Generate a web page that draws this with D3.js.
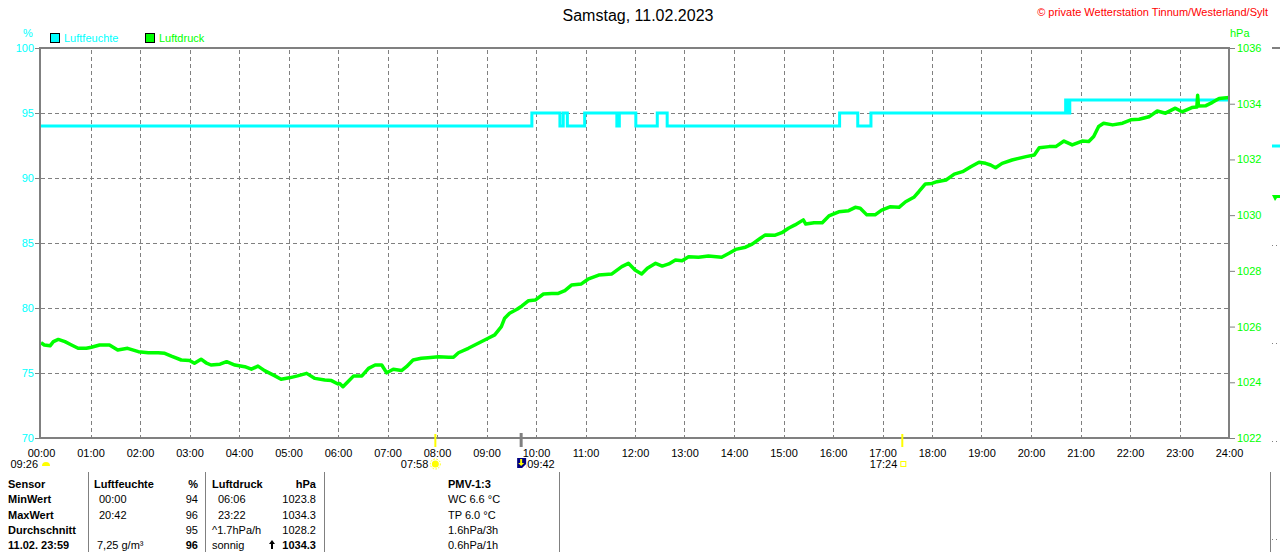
<!DOCTYPE html>
<html>
<head>
<meta charset="utf-8">
<script src="https://cdn.jsdelivr.net/npm/d3@7/dist/d3.min.js"></script>
<style>
  body { margin: 0; background: #fff; }
  svg { display: block; font-family: "Liberation Sans", Arial, sans-serif; }
</style>
</head>
<body>
<svg id="chart" width="1280" height="552"></svg>
<script>
// humidity (%) steps: minute of day -> value from that minute on
const humTime = [0, 595, 629, 633, 638, 659, 698, 701, 721, 747, 759, 968, 990, 1006, 1242, 1245, 1247, 1440];
const humVal  = [94, 95, 94, 95, 94, 95, 94, 95, 94, 95, 94, 95, 94, 95, 96, 95, 96, 96];

// pressure (hPa)
const pressTime = [0,4,11,15,21,29,37,45,55,61,71,83,93,105,118,130,142,150,158,170,
  180,186,194,200,206,217,225,235,247,255,263,271,283,291,301,311,322,332,344,352,
  360,362,366,372,379,389,397,405,413,419,427,437,443,451,461,469,482,494,500,506,
  518,530,542,550,558,562,568,577,583,591,599,609,619,627,635,643,655,663,676,692,
  704,712,720,728,735,745,753,761,769,777,785,797,809,825,834,842,854,862,872,878,
  890,898,906,914,924,927,937,947,955,967,979,987,993,1001,1011,1019,1029,1040,1048,1058,
  1064,1072,1080,1086,1097,1107,1117,1127,1137,1145,1151,1157,1165,1177,1194,1204,1210,1222,1230,1240,
  1250,1262,1270,1276,1282,1288,1299,1311,1321,1331,1343,1353,1363,1375,1383,1395,1401,1402,1403,1412,
  1420,1428,1440];
const pressVal = [1025.42,1025.34,1025.31,1025.46,1025.54,1025.46,1025.34,1025.22,1025.22,1025.26,
  1025.34,1025.34,1025.16,1025.22,1025.10,1025.06,1025.06,1025.04,1024.94,1024.80,
  1024.78,1024.68,1024.83,1024.70,1024.62,1024.65,1024.74,1024.62,1024.56,1024.47,
  1024.58,1024.42,1024.24,1024.11,1024.16,1024.23,1024.32,1024.14,1024.08,1024.06,
  1023.94,1023.96,1023.84,1024.02,1024.23,1024.23,1024.50,1024.62,1024.62,1024.34,
  1024.47,1024.42,1024.56,1024.80,1024.86,1024.88,1024.92,1024.90,1024.90,1025.06,
  1025.22,1025.40,1025.58,1025.70,1026.00,1026.30,1026.48,1026.62,1026.74,1026.93,
  1026.95,1027.17,1027.19,1027.19,1027.29,1027.49,1027.53,1027.70,1027.85,1027.89,
  1028.15,1028.27,1028.03,1027.89,1028.09,1028.27,1028.17,1028.25,1028.39,1028.36,
  1028.51,1028.49,1028.53,1028.49,1028.63,1028.77,1028.85,1028.96,1029.17,1029.29,
  1029.28,1029.37,1029.53,1029.65,1029.83,1029.68,1029.73,1029.73,1029.97,1030.12,
  1030.16,1030.28,1030.25,1030.01,1030.01,1030.18,1030.30,1030.28,1030.48,1030.64,
  1030.84,1031.12,1031.14,1031.20,1031.26,1031.47,1031.56,1031.74,1031.90,1031.86,
  1031.80,1031.70,1031.86,1031.98,1032.10,1032.16,1032.42,1032.46,1032.46,1032.66,
  1032.52,1032.66,1032.64,1032.82,1033.18,1033.30,1033.24,1033.30,1033.42,1033.44,
  1033.53,1033.74,1033.66,1033.84,1033.71,1033.86,1033.88,1034.30,1033.92,1033.93,
  1034.05,1034.19,1034.22];

const humTicks = [70, 75, 80, 85, 90, 95, 100];
const pressTicks = [1022, 1024, 1026, 1028, 1030, 1032, 1034, 1036];
const hourTicks = d3.range(0, 25).map(h => h * 60);

// sun / moon times (minutes)
const sunrise = 478, sunset = 1044, moonset = 582;

const tableRows = [
  ['Sensor', 'Luftfeuchte', '%', 'Luftdruck', 'hPa', 'PMV-1:3'],
  ['MinWert', '00:00', '94', '06:06', '1023.8', 'WC 6.6 °C'],
  ['MaxWert', '20:42', '96', '23:22', '1034.3', 'TP 6.0 °C'],
  ['Durchschnitt', '', '95', '^1.7hPa/h', '1028.2', '1.6hPa/3h'],
  ['11.02. 23:59', '7,25 g/m³', '96', 'sonnig', '1034.3', '0.6hPa/1h']
];

const svg = d3.select('#chart');
const grey = '#808080', cyan = '#00ffff', green = '#00ff00';

const x = d3.scaleLinear().domain([0, 1440]).range([41, 1229]);
const yH = d3.scaleLinear().domain([70, 100]).range([438, 48]);
const yP = d3.scaleLinear().domain([1022, 1036]).range([438, 48]);

// titles
svg.append('text').attr('x', 638).attr('y', 21).attr('text-anchor', 'middle')
  .style('font-size', '16px').style('fill', '#000').text('Samstag, 11.02.2023');
svg.append('text').attr('x', 1268).attr('y', 16).attr('text-anchor', 'end')
  .style('font-size', '11px').style('fill', '#ff0000').text('© private Wetterstation Tinnum/Westerland/Sylt');
svg.append('text').attr('x', 23).attr('y', 37).style('font-size', '11px').style('fill', cyan).text('%');
svg.append('text').attr('x', 1230).attr('y', 37).style('font-size', '11px').style('fill', green).text('hPa');

// legend
const legend = [{ name: 'Luftfeuchte', color: cyan, x: 50 }, { name: 'Luftdruck', color: green, x: 145 }];
legend.forEach(l => {
  svg.append('rect').attr('x', l.x + 0.5).attr('y', 33.5).attr('width', 9).attr('height', 9)
    .style('fill', l.color).style('stroke', '#000');
  svg.append('text').attr('x', l.x + 14).attr('y', 42).style('font-size', '11px')
    .style('fill', l.color).text(l.name);
});

// grid
const grid = svg.append('g').style('stroke', grey).style('stroke-dasharray', '4,3');
grid.selectAll('line.v').data(hourTicks.slice(1, -1)).enter().append('line')
  .attr('x1', d => Math.round(x(d)) + 0.5).attr('x2', d => Math.round(x(d)) + 0.5)
  .attr('y1', yH(100) + 2).attr('y2', yH(70) - 1);
grid.selectAll('line.h').data(humTicks.slice(1, -1)).enter().append('line')
  .attr('x1', x(0)).attr('x2', x(1440))
  .attr('y1', d => Math.round(yH(d)) + 0.5).attr('y2', d => Math.round(yH(d)) + 0.5);

// lines
const humData = humTime.map((t, i) => ({ t, v: humVal[i] }));
const pressData = pressTime.map((t, i) => ({ t, v: pressVal[i] }));

svg.append('path').datum(humData)
  .attr('d', d3.line().x(d => x(d.t)).y(d => yH(d.v)).curve(d3.curveStepAfter))
  .style('fill', 'none').style('stroke', cyan).style('stroke-width', 3);

svg.append('path').datum(pressData)
  .attr('d', d3.line().x(d => x(d.t)).y(d => yP(d.v)))
  .style('fill', 'none').style('stroke', green).style('stroke-width', 3.5)
  .style('stroke-linejoin', 'round');

// frame
svg.append('rect').attr('x', 40).attr('y', 48).attr('width', 1189).attr('height', 390)
  .style('fill', 'none').style('stroke', grey).style('stroke-width', 2);

// axes
function styleAxis(g, color) {
  g.select('.domain').remove();
  g.selectAll('line').style('stroke', grey);
  g.selectAll('text').style('fill', color).style('font-size', '11px')
    .style('font-family', '"Liberation Sans", Arial, sans-serif');
}
svg.append('g').attr('transform', 'translate(40,0)')
  .call(d3.axisLeft(yH).tickValues(humTicks).tickSize(5).tickPadding(1).tickFormat(d3.format('d')))
  .call(g => styleAxis(g, cyan));
svg.append('g').attr('transform', 'translate(1230,0)')
  .call(d3.axisRight(yP).tickValues(pressTicks).tickSize(5).tickPadding(2).tickFormat(d3.format('d')))
  .call(g => styleAxis(g, green));
svg.append('g').attr('transform', 'translate(0,438)')
  .call(d3.axisBottom(x).tickValues(hourTicks).tickSize(0).tickPadding(11)
    .tickFormat(d => d3.format('02d')(d / 60) + ':00'))
  .call(g => styleAxis(g, '#000'));

// sun / moon markers on the time axis
[sunrise, sunset].forEach(t => {
  svg.append('line').attr('x1', x(t)).attr('x2', x(t)).attr('y1', 434).attr('y2', 447)
    .style('stroke', '#ffff00').style('stroke-width', 2);
});
svg.append('line').attr('x1', x(moonset)).attr('x2', x(moonset)).attr('y1', 433).attr('y2', 447)
  .style('stroke', grey).style('stroke-width', 3);

const small = svg.append('g').style('font-size', '11px').style('fill', '#000');
small.append('text').attr('x', x(0) - 3).attr('y', 468).attr('text-anchor', 'end').text('09:26');
svg.append('path').attr('d', `M${x(0) + 1},466 a4,4 0 0 1 8,0 z`).style('fill', '#ffff00');

small.append('text').attr('x', x(sunrise) - 7).attr('y', 468).attr('text-anchor', 'end').text('07:58');
const sun = svg.append('g').attr('transform', `translate(${x(sunrise)},464)`);
sun.append('circle').attr('r', 3.5).style('fill', '#ffff00');
sun.append('circle').attr('r', 5).style('fill', 'none').style('stroke', '#ffff00')
  .style('stroke-dasharray', '1.5,1.5');

const moon = svg.append('g').attr('transform', `translate(${x(moonset) - 4},458)`);
moon.append('rect').attr('width', 9).attr('height', 10).style('fill', '#000080');
moon.append('path').attr('d', 'M3,1 h2 v4 h2 l-3,3 l-3,-3 h2 z').style('fill', '#ffff00');
moon.append('path').attr('d', 'M5,10 l4,-4 v4 z').style('fill', '#fff');
small.append('text').attr('x', x(moonset) + 6).attr('y', 468).text('09:42');

small.append('text').attr('x', x(sunset) - 5).attr('y', 468).attr('text-anchor', 'end').text('17:24');
svg.append('rect').attr('x', x(sunset) - 1.5).attr('y', 461.5).attr('width', 5).attr('height', 5)
  .style('fill', 'none').style('stroke', '#ffff00');

// stub of the neighbouring chart at the right edge
const stub = svg.append('g');
stub.append('line').attr('x1', 1272).attr('x2', 1280).attr('y1', 48).attr('y2', 48)
  .style('stroke', grey).style('stroke-width', 2);
stub.append('line').attr('x1', 1272).attr('x2', 1280).attr('y1', 146).attr('y2', 146)
  .style('stroke', cyan).style('stroke-width', 3);
stub.append('path').attr('d', 'M1272,195 l3,6 l2,-3 l3,0 v-3 z').style('fill', green);
[245, 343, 441, 539].forEach(y => {
  stub.append('line').attr('x1', 1272).attr('x2', 1280).attr('y1', y + 0.5).attr('y2', y + 0.5)
    .style('stroke', grey).style('stroke-dasharray', '1,3');
});

// table
const sepX = [88, 205, 324, 559, 1270];
sepX.forEach(sx => {
  svg.append('line').attr('x1', sx + 0.5).attr('x2', sx + 0.5).attr('y1', 472).attr('y2', 552)
    .style('stroke', grey);
});

const cols = [
  { x: 8, anchor: 'start' },
  { x: 99, anchor: 'start' },
  { x: 198, anchor: 'end' },
  { x: 218, anchor: 'start' },
  { x: 316, anchor: 'end' },
  { x: 448, anchor: 'start' }
];
const rowY = r => 488 + r * 15.25;
const table = svg.append('g').style('font-size', '11px').style('fill', '#000');
tableRows.forEach((row, r) => {
  row.forEach((cell, c) => {
    let cx = cols[c].x;
    if (r === 0 && c === 1) cx = 94;
    if (c === 3 && (r === 0 || r >= 3)) cx = 212;
    if (r === 4 && c === 1) cx = 97;
    const bold = r === 0 || c === 0 || (r === 4 && (c === 2 || c === 4));
    table.append('text').attr('x', cx).attr('y', rowY(r))
      .attr('text-anchor', cols[c].anchor)
      .style('font-weight', bold ? 'bold' : 'normal')
      .text(cell);
  });
});
// trend arrow in last row
svg.append('path').attr('d', `M272,${rowY(4) - 9} l-3,4 h2 v5 h2 v-5 h2 z`).style('fill', '#000');
</script>
</body>
</html>
